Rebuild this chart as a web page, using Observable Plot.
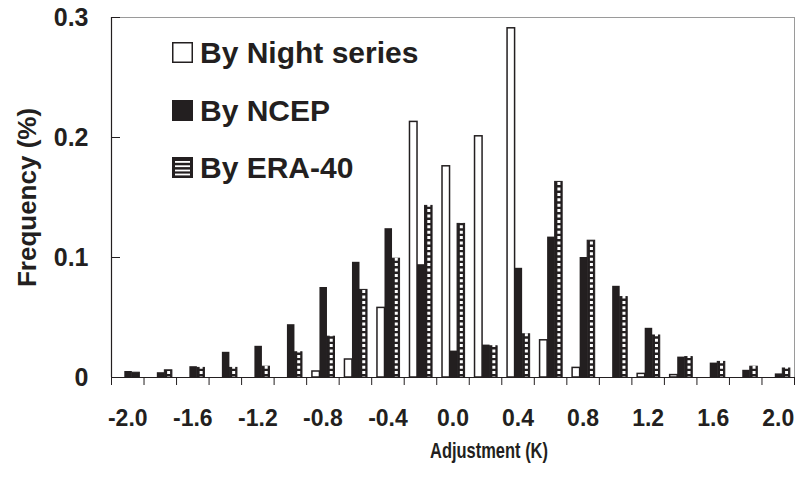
<!DOCTYPE html>
<html><head><meta charset="utf-8">
<script src="https://cdn.jsdelivr.net/npm/d3@7"></script>
<script src="https://cdn.jsdelivr.net/npm/@observablehq/plot@0.6"></script>
<style>
body{margin:0;background:#fff;}
#wrap{position:relative;width:798px;height:481px;font-family:"Liberation Sans",Arial,sans-serif;font-weight:bold;color:#231f20;}
.lg-box{position:absolute;width:21px;height:21px;}
.lg-text{position:absolute;font-size:30px;line-height:30px;white-space:nowrap;}
</style></head><body>
<div id="wrap"><div id="chart"></div><div id="legend"></div></div>
<script>
// ---- data ----
const categories = [-2.0,-1.8,-1.6,-1.4,-1.2,-1.0,-0.8,-0.6,-0.4,-0.2,0.0,0.2,0.4,0.6,0.8,1.0,1.2,1.4,1.6,1.8,2.0];
const nightSeries = [0,0,0,0,0,0,0.005,0.015,0.058,0.213,0.176,0.201,0.291,0.031,0.008,0,0.003,0.002,0,0,0];
const ncepSeries  = [0.005,0.004,0.009,0.021,0.026,0.044,0.075,0.096,0.124,0.094,0.022,0.027,0.091,0.117,0.100,0.076,0.041,0.017,0.012,0.006,0.003];
const eraSeries   = [0.004,0.006,0.008,0.008,0.009,0.021,0.034,0.073,0.099,0.143,0.128,0.026,0.036,0.163,0.114,0.067,0.035,0.017,0.013,0.009,0.0075];
const seriesNames = ["By Night series","By NCEP","By ERA-40"];
const yTicks = [0,0.1,0.2,0.3];
const xTickLabels = ["-2.0","-1.6","-1.2","-0.8","-0.4","0.0","0.4","0.8","1.2","1.6","2.0"];
const xTitle = "Adjustment (K)";
const yTitle = "Frequency (%)";

// ---- layout helpers (data units) ----
const binWidth = 0.2;
const barW = 0.0463;
const groupStart = -0.0645;
const ink = "#231f20";

const allSeries = [nightSeries, ncepSeries, eraSeries];
const rows = categories.flatMap((c,i)=> allSeries.map((arr,s)=>({
  c, s, v: arr[i],
  x1: c + groupStart + s*barW,
  x2: c + groupStart + (s+1)*barW,
  xm: c + groupStart + (s+0.5)*barW
})));
const nightRows = rows.filter(d=>d.s===0 && d.v>0);
const ncepRows = rows.filter(d=>d.s===1 && d.v>0);
const eraRows = rows.filter(d=>d.s===2 && d.v>0);
const eraDashRows = eraRows.filter(d=>d.v>0.005);
const binEdges = categories.map(c=>c-binWidth/2).concat([categories[categories.length-1]+binWidth/2]);
const xDomain = [binEdges[0], binEdges[binEdges.length-1]];

const chart = Plot.plot({
  width: 798, height: 481,
  marginLeft: 111, marginRight: 4, marginTop: 17, marginBottom: 104,
  x: {domain: xDomain, label: null, axis: null},
  y: {domain: [0, 0.3], label: null, axis: null},
  style: {fontFamily: "'Liberation Sans', Arial, sans-serif", fontWeight: "bold", color: ink, background: "white", overflow: "visible"},
  marks: [
    Plot.frame({stroke: "#9a9a9a", strokeWidth: 1}),
    Plot.rectY(nightRows, {x1: "x1", x2: "x2", y: "v", fill: "white", stroke: ink, strokeWidth: 1.5}),
    Plot.rectY(ncepRows, {x1: "x1", x2: "x2", y: "v", fill: ink}),
    Plot.rectY(eraRows, {x1: "x1", x2: "x2", y: "v", fill: ink, stroke: ink, strokeWidth: 1}),
    Plot.ruleX(eraDashRows, {x: "xm", y1: 0, y2: "v", stroke: "white", strokeWidth: 3, strokeDasharray: "3,2.4", insetTop: 2.5, insetBottom: 2.5}),
    Plot.ruleY([0], {stroke: ink, strokeWidth: 1.2}),
    Plot.ruleX([xDomain[0]], {stroke: ink, strokeWidth: 1.2}),
    Plot.axisY({ticks: yTicks, tickSize: -9, tickFormat: () => "", stroke: ink}),
    Plot.axisY({ticks: yTicks, tickSize: 0, tickPadding: 23, fontSize: 25, fontWeight: "bold", fill: ink,
      tickFormat: d => d === 0 ? "0" : d.toFixed(1)}),
    Plot.axisX({ticks: binEdges, tickSize: 8, tickFormat: () => "", stroke: ink}),
    Plot.text(xTickLabels, {x: d => +d, frameAnchor: "bottom", dy: 41, fontSize: 23, fontWeight: "bold", fill: ink,
      textAnchor: "middle", lineAnchor: "middle"}),
    Plot.text([xTitle], {frameAnchor: "bottom", dx: 36, dy: 73, fontSize: 22, fontWeight: "bold", fill: ink,
      textAnchor: "middle", lineAnchor: "middle", className: "xtitle"}),
    Plot.text([yTitle], {frameAnchor: "left", dx: -84, rotate: -90, fontSize: 26, fontWeight: "bold", fill: ink,
      textAnchor: "middle", lineAnchor: "middle"})
  ]
});
document.getElementById("chart").appendChild(chart);
// condensed look of the x-axis title
chart.querySelectorAll("g.xtitle text, .xtitle text").forEach(t => {
  t.setAttribute("textLength", "118");
  t.setAttribute("lengthAdjust", "spacingAndGlyphs");
});

// ---- legend ----
const legend = document.getElementById("legend");
const boxTops = [42, 99.5, 157];
const swatches = [
  `<svg width="21" height="21"><rect x="0.75" y="0.75" width="19.5" height="19.5" fill="white" stroke="${ink}" stroke-width="1.5"/></svg>`,
  `<svg width="21" height="21"><rect x="0" y="0" width="21" height="21" fill="${ink}"/></svg>`,
  `<svg width="21" height="21"><rect x="0" y="0" width="21" height="21" fill="${ink}"/>` +
    [4,8.3,12.6,16.6].map(y=>`<rect x="3" y="${y}" width="15" height="1.8" fill="white"/>`).join("") + `</svg>`
];
seriesNames.forEach((name,i)=>{
  const b = document.createElement("div");
  b.className = "lg-box"; b.style.left = "172px"; b.style.top = boxTops[i] + "px";
  b.innerHTML = swatches[i];
  legend.appendChild(b);
  const t = document.createElement("div");
  t.className = "lg-text"; t.style.left = "200px"; t.style.top = (boxTops[i] - 4) + "px";
  t.textContent = name;
  legend.appendChild(t);
});
</script>
</body></html>
